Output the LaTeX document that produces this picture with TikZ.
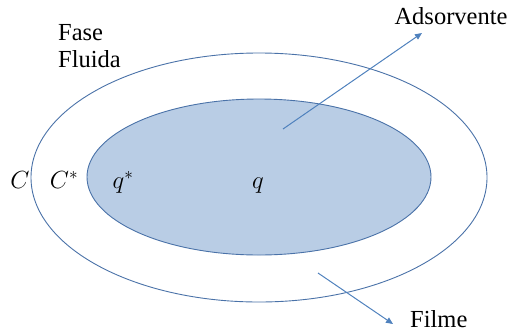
\documentclass[tikz,border=0pt]{standalone}
\usepackage{fontspec}
\setmainfont{Liberation Serif}
\usetikzlibrary{shapes.geometric,arrows.meta}
\definecolor{edgeblue}{HTML}{4A72A8}
\definecolor{fillblue}{HTML}{B9CDE5}
\definecolor{arrowblue}{HTML}{4F81BD}
\tikzset{
  ring/.style={ellipse, draw=edgeblue, line width=0.9bp, inner sep=0pt},
  lbl/.style={font=\fontsize{24.5bp}{27bp}\selectfont, inner sep=0pt},
  mlbl/.style={font=\fontsize{26bp}{28bp}\selectfont, inner sep=0pt},
  flow/.style={draw=arrowblue, line width=1bp, -{Triangle[length=7bp,width=6bp]}}
}
\begin{document}
\begin{tikzpicture}[x=1bp,y=-1bp]
\useasboundingbox (0,0) rectangle (510,332);
\node[ring, minimum width=456bp, minimum height=249bp] (outer) at (259,177.5) {};
\node[ring, fill=fillblue, minimum width=344bp, minimum height=156bp] (inner) at (259,177) {};
\node[lbl, anchor=base west, align=left] (fase) at (58,67) {Fase\\Fluida};
\node[mlbl, anchor=base] (c) at (20,188) {$C$};
\node[mlbl, anchor=base] (cs) at (64,188) {$C^*$};
\node[mlbl, anchor=base] (qs) at (123,188) {$q^*$};
\node[mlbl, anchor=base] (q) at (258,188) {$q$};
\node[lbl, anchor=base] (ads) at (451,24) {Adsorvente};
\node[lbl, anchor=base west] (filme) at (410,327) {Filme};
\coordinate (a0) at (283,129);
\coordinate (a1) at (422,33);
\coordinate (f0) at (318,273);
\coordinate (f1) at (393,324);
\draw[flow] (a0) -- (a1);
\draw[flow] (f0) -- (f1);
\end{tikzpicture}
\end{document}
